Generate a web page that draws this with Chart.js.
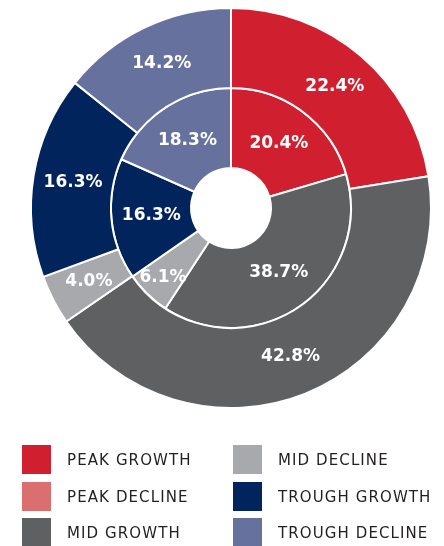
<!DOCTYPE html>
<html>
<head>
<meta charset="utf-8">
<script src="https://cdn.jsdelivr.net/npm/chart.js@4"></script>
<style>
  html, body { margin: 0; padding: 0; background: #ffffff; }
  body { width: 444px; height: 546px; position: relative; overflow: hidden; }
  #wrap { position: absolute; left: 0; top: 0; width: 444px; height: 418px; }
  #legend { position: absolute; left: 0; top: 0; width: 444px; height: 546px; pointer-events: none; }
  .item { position: absolute; height: 29px; display: flex; align-items: center; }
  .sw { width: 29px; height: 29px; flex: none; }
  .lab { margin-left: 16px; font-family: "DejaVu Sans", sans-serif; font-size: 15px; letter-spacing: 1.1px; color: #231f20; white-space: nowrap; }
</style>
</head>
<body>
<div id="wrap"><canvas id="c"></canvas></div>
<div id="legend"></div>
<script>
// Categories
const categories = ["PEAK GROWTH", "PEAK DECLINE", "MID GROWTH", "MID DECLINE", "TROUGH GROWTH", "TROUGH DECLINE"];
// Outer ring values (%)
const outerValues = [22.4, 0, 42.8, 4.0, 16.3, 14.2];
// Inner ring values (%)
const innerValues = [20.4, 0, 38.7, 6.1, 16.3, 18.3];
// Colours per category
const colors = ["#d0202f", "#db6f6f", "#5f6062", "#a8a9ad", "#00245b", "#67719e"];

const labelPlugin = {
  id: 'sliceLabels',
  afterDatasetsDraw(chart) {
    const ctx = chart.ctx;
    ctx.save();
    ctx.fillStyle = '#ffffff';
    ctx.font = 'bold 17px "DejaVu Sans", sans-serif';
    ctx.textAlign = 'center';
    ctx.textBaseline = 'middle';
    chart.data.datasets.forEach((ds, di) => {
      const meta = chart.getDatasetMeta(di);
      meta.data.forEach((arc, i) => {
        const v = ds.data[i];
        if (!v) return;
        const p = arc.getProps(['x', 'y', 'startAngle', 'endAngle', 'innerRadius', 'outerRadius']);
        const mid = (p.startAngle + p.endAngle) / 2;
        const span = p.endAngle - p.startAngle;
        const frac = (di === 1 && span < 0.5) ? 0.72 : 0.5;
        const r = p.innerRadius + (p.outerRadius - p.innerRadius) * frac;
        ctx.fillText(v.toFixed(1) + '%', p.x + Math.cos(mid) * r, p.y + Math.sin(mid) * r);
      });
    });
    ctx.restore();
  }
};

new Chart(document.getElementById('c'), {
  type: 'doughnut',
  data: {
    labels: categories,
    datasets: [
      { data: outerValues, backgroundColor: colors, borderColor: '#ffffff', borderWidth: 2 },
      { data: innerValues, backgroundColor: colors, borderColor: '#ffffff', borderWidth: 2 }
    ]
  },
  options: {
    responsive: true,
    maintainAspectRatio: false,
    animation: false,
    cutout: '20%',
    layout: { padding: { left: 18, right: 0, top: 7, bottom: 9 } },
    plugins: { legend: { display: false }, tooltip: { enabled: false } }
  },
  plugins: [labelPlugin]
});

// Legend built from the arrays (column-major, two columns of three)
const legend = document.getElementById('legend');
const colX = [22, 233];
const rowY = [445, 482, 518];
categories.forEach((name, i) => {
  const col = Math.floor(i / 3), row = i % 3;
  const d = document.createElement('div');
  d.className = 'item';
  d.style.left = colX[col] + 'px';
  d.style.top = rowY[row] + 'px';
  d.innerHTML = '<div class="sw" style="background:' + colors[i] + '"></div><div class="lab">' + name + '</div>';
  legend.appendChild(d);
});
</script>
</body>
</html>
